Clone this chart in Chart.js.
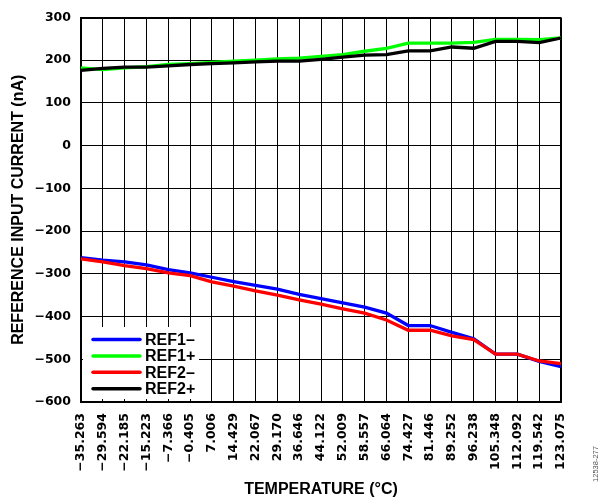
<!DOCTYPE html>
<html lang="en">
<head>
    <meta charset="UTF-8">
    <title>Reference Input Current vs Temperature</title>
    <script src="https://cdn.jsdelivr.net/npm/chart.js"></script>
    <style>
        body {
            margin: 0;
            background: white;
        }
        #wrap {
            width: 605px;
            height: 504px;
            position: relative;
        }
    </style>
</head>
<body>

<div id="wrap">
    <canvas id="refChart" width="605" height="504"></canvas>
</div>

<script>
    // temperature categories (deg C), as printed on the axis
    const temps = ['−35.263', '−29.594', '−22.185', '−15.223', '−7.366', '−0.405', '7.006', '14.429',
        '22.067', '29.170', '36.646', '44.122', '52.009', '58.557', '66.064', '74.427', '81.446',
        '89.252', '96.238', '105.348', '112.092', '119.542', '123.075'];

    // reference input current (nA)
    const ref1Minus = [-262, -268, -272, -279, -290, -298, -308, -318, -327, -336, -348, -358,
        -368, -378, -392, -421, -421, -437, -452, -488, -488, -505, -517];
    const ref1Plus = [182, 178, 182, 185, 190, 192, 195, 198, 200, 203, 205, 209,
        213, 221, 228, 240, 240, 240, 242, 249, 249, 248, 252];
    const ref2Minus = [-265, -272, -281, -288, -298, -304, -319, -329, -340, -350, -361, -371,
        -382, -392, -408, -432, -432, -445, -454, -488, -488, -504, -510];
    const ref2Plus = [176, 181, 184, 184, 187, 190, 192, 194, 196, 198, 198, 202,
        207, 212, 213, 222, 222, 231, 228, 244, 244, 241, 252];

    const yTicks = [-600, -500, -400, -300, -200, -100, 0, 100, 200, 300];

    const seriesNames = ['REF1–', 'REF1+', 'REF2–', 'REF2+'];
    const seriesColors = ['#0000ff', '#00ff00', '#ff0000', '#000000'];

    const tickFont = { family: 'DejaVu Sans', size: 12.5, weight: 'bold' };
    const titleFont = { family: 'Liberation Sans', size: 16, weight: 'bold' };

    // legend box in the lower left corner, with the figure number at the side
    const boxLegend = {
        id: 'boxLegend',
        afterDraw(chart) {
            const ctx = chart.ctx;
            const area = chart.chartArea;
            ctx.save();
            ctx.fillStyle = 'white';
            ctx.fillRect(area.left + 2, 327, 116, 72);

            ctx.font = 'bold 16px "Liberation Sans"';
            ctx.textBaseline = 'middle';
            ctx.textAlign = 'left';
            for (let i = 0; i < seriesNames.length; i++) {
                const y = 339.5 + i * 16.4;
                ctx.strokeStyle = seriesColors[i];
                ctx.lineWidth = 3.5;
                ctx.lineCap = 'round';
                ctx.beginPath();
                ctx.moveTo(93, y);
                ctx.lineTo(140, y);
                ctx.stroke();
                ctx.fillStyle = 'black';
                ctx.fillText(seriesNames[i], 145, y + 1);
            }

            ctx.translate(596, 464);
            ctx.rotate(-Math.PI / 2);
            ctx.font = '7.5px "Liberation Sans"';
            ctx.fillStyle = '#555';
            ctx.textAlign = 'center';
            ctx.fillText('12538-277', 0, 0);
            ctx.restore();
        }
    };

    function makeSet(i, values, order) {
        return {
            label: seriesNames[i],
            data: values,
            borderColor: seriesColors[i],
            borderWidth: 3.3,
            pointRadius: 0,
            tension: 0,
            fill: false,
            order: order
        };
    }

    const ctx = document.getElementById('refChart').getContext('2d');
    const chart = new Chart(ctx, {
        type: 'line',
        data: {
            labels: temps,
            datasets: [
                makeSet(0, ref1Minus, 4),
                makeSet(1, ref1Plus, 3),
                makeSet(2, ref2Minus, 2),
                makeSet(3, ref2Plus, 1)
            ]
        },
        options: {
            responsive: false,
            animation: false,
            layout: {
                padding: { top: 12, right: 44, left: 0, bottom: 0 }
            },
            plugins: {
                legend: { display: false },
                tooltip: { enabled: false }
            },
            scales: {
                x: {
                    type: 'category',
                    offset: false,
                    grid: {
                        color: '#000',
                        lineWidth: (c) => (c.index === temps.length - 1 ? 2 : 1),
                        drawTicks: false
                    },
                    border: { color: '#000', width: 2 },
                    ticks: {
                        color: '#000',
                        font: tickFont,
                        minRotation: 90,
                        maxRotation: 90,
                        autoSkip: false,
                        padding: 11
                    },
                    title: {
                        display: true,
                        text: 'TEMPERATURE (°C)',
                        color: '#000',
                        font: titleFont,
                        padding: { top: 0, bottom: 5 }
                    },
                    afterFit(scale) {
                        scale.height = 102;
                    }
                },
                y: {
                    min: -600,
                    max: 300,
                    afterBuildTicks(scale) {
                        scale.ticks = yTicks.map(v => ({ value: v }));
                    },
                    grid: {
                        color: '#000',
                        lineWidth: (c) => (c.tick && c.tick.value === 300 ? 2 : 1),
                        drawTicks: false
                    },
                    border: { color: '#000', width: 2 },
                    ticks: {
                        color: '#000',
                        font: tickFont,
                        padding: 10,
                        callback: (v) => String(v).replace('-', '−')
                    },
                    title: {
                        display: true,
                        text: 'REFERENCE INPUT CURRENT (nA)',
                        color: '#000',
                        font: titleFont,
                        padding: { top: 9, bottom: 0 }
                    },
                    afterFit(scale) {
                        scale.width = 81;
                    }
                }
            }
        },
        plugins: [boxLegend]
    });
</script>

</body>
</html>
